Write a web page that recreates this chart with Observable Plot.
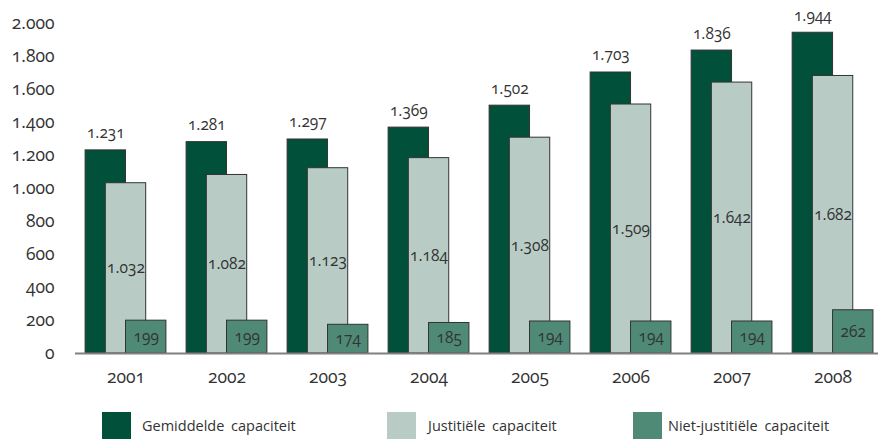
<!DOCTYPE html>
<html>
<head>
<meta charset="utf-8">
<script src="https://cdn.jsdelivr.net/npm/d3@7"></script>
<script src="https://cdn.jsdelivr.net/npm/@observablehq/plot@0.6"></script>
<style>
  html, body { margin: 0; padding: 0; background: #fff; }
  body { width: 878px; height: 439px; overflow: hidden; font-family: "Open Sans", Lato, sans-serif; font-feature-settings: "onum" 1; font-variant-numeric: oldstyle-nums; color: #333; }
  #chart svg { display: block; }
  #chart svg text { font-feature-settings: "onum" 1; font-variant-numeric: oldstyle-nums; }
  #legend { position: relative; width: 878px; height: 44px; }
  .sw { position: absolute; top: 17px; width: 29px; height: 27px; }
  .lt { position: absolute; top: 22px; font-size: 14.5px; line-height: 18px; color: #333; word-spacing: 3px; }
</style>
</head>
<body>
<div id="chart"></div>
<div id="legend"></div>
<script>
const years = [2001, 2002, 2003, 2004, 2005, 2006, 2007, 2008];
const gemiddelde = [1231, 1281, 1297, 1369, 1502, 1703, 1836, 1944];
const justitieel = [1032, 1082, 1123, 1184, 1308, 1509, 1642, 1682];
const nietJustitieel = [199, 199, 174, 185, 194, 194, 194, 262];
const seriesNames = ["Gemiddelde capaciteit", "Justitiële capaciteit", "Niet-justitiële capaciteit"];
const yTicks = [0, 200, 400, 600, 800, 1000, 1200, 1400, 1600, 1800, 2000];

const colors = ["#01503a", "#b8ccc5", "#4f8a77"];
const offsets = [[-0.4, 0], [-0.2, 0.2], [0, 0.4]];
const allSeries = [gemiddelde, justitieel, nietJustitieel];

const rows = [];
allSeries.forEach((vals, s) => {
  vals.forEach((v, i) => {
    rows.push({year: years[i], s, series: seriesNames[s], value: v,
      x1: years[i] + offsets[s][0], x2: years[i] + offsets[s][1],
      xm: years[i] + (offsets[s][0] + offsets[s][1]) / 2});
  });
});

const loc = d3.formatLocale({decimal: ",", thousands: ".", grouping: [3], currency: ["", ""]});
const fmt = loc.format(",d");

const chart = Plot.plot({
  width: 878,
  height: 395,
  marginLeft: 75,
  marginRight: 0,
  marginTop: 23,
  marginBottom: 42,
  style: {fontFamily: "'Open Sans', Lato, sans-serif", color: "#333", background: "#fff"},
  x: {type: "linear", domain: [2000.5, 2008.45]},
  y: {domain: [0, 2000]},
  marks: [
    Plot.axisY({ticks: yTicks, tickFormat: fmt, tickSize: 0, tickPadding: 21, fontSize: 17.5, letterSpacing: "0.8px", label: null}),
    Plot.axisX({ticks: years, tickFormat: d => String(d), tickSize: 0, tickPadding: 17, fontSize: 17.5, letterSpacing: "1.2px", label: null}),
    Plot.rectY(rows.filter(d => d.s === 0), {x1: "x1", x2: "x2", y1: 0, y2: "value", fill: colors[0], stroke: "#333", strokeWidth: 1}),
    Plot.rectY(rows.filter(d => d.s === 1), {x1: "x1", x2: "x2", y1: 0, y2: "value", fill: colors[1], stroke: "#333", strokeWidth: 1}),
    Plot.rectY(rows.filter(d => d.s === 2), {x1: "x1", x2: "x2", y1: 0, y2: "value", fill: colors[2], stroke: "#333", strokeWidth: 1}),
    Plot.ruleY([0], {stroke: "#808080", strokeWidth: 2}),
    Plot.text(rows.filter(d => d.s === 0), {x: "xm", y: "value", text: d => fmt(d.value), dy: -17, fontSize: 15.5, letterSpacing: "0.6px", fill: "#333"}),
    Plot.text(rows.filter(d => d.s === 1), {x: "xm", y: d => d.value / 2, text: d => fmt(d.value), fontSize: 15.5, letterSpacing: "0.6px", fill: "#333"}),
    Plot.text(rows.filter(d => d.s === 2), {x: "xm", y: d => d.value / 2, text: d => fmt(d.value), fontSize: 15.5, letterSpacing: "0.6px", fill: "#333"})
  ]
});
document.getElementById("chart").appendChild(chart);

const legendPos = [[102, 142], [387, 428], [633, 668]];
const legend = document.getElementById("legend");
seriesNames.forEach((name, i) => {
  const sw = document.createElement("div");
  sw.className = "sw";
  sw.style.left = legendPos[i][0] + "px";
  sw.style.background = colors[i];
  legend.appendChild(sw);
  const t = document.createElement("div");
  t.className = "lt";
  t.style.left = legendPos[i][1] + "px";
  t.textContent = name;
  legend.appendChild(t);
});
</script>
</body>
</html>
